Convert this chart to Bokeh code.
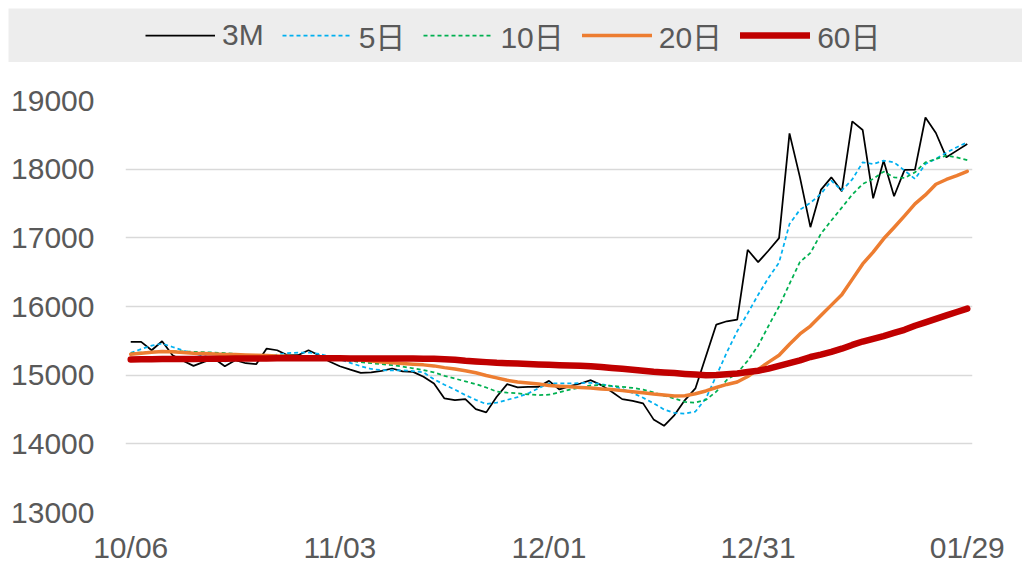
from bokeh.plotting import figure
from bokeh.models import Range1d, FixedTicker, Legend, LegendItem
from bokeh.layouts import column
from bokeh.embed import file_html
from bokeh.resources import INLINE

# ---- data ----
tick_positions = [0, 20, 40, 60, 80]
tick_labels = ["10/06", "11/03", "12/01", "12/31", "01/29"]

price_3m = [15484, 15484, 15363, 15494, 15291, 15210, 15135, 15193, 15240, 15131,
            15218, 15174, 15160, 15388, 15363, 15291, 15291, 15363, 15291, 15200,
            15130, 15080, 15034, 15039, 15063, 15097, 15054, 15048, 14976, 14879,
            14661, 14637, 14651, 14506, 14458, 14685, 14869, 14821, 14830, 14830,
            14917, 14792, 14840, 14879, 14927, 14855, 14758, 14651, 14627, 14589,
            14356, 14263, 14419, 14637, 14807, 15271, 15737, 15785, 15809, 16826,
            16646, 16816, 16995, 18521, 17880, 17155, 17698, 17881, 17678, 18695,
            18570, 17576, 18124, 17605, 17989, 17993, 18753, 18527, 18172, 18270,
            18367]

ma5 = [15324, 15380, 15430, 15460, 15410, 15360, 15320, 15280, 15240, 15200,
       15220, 15230, 15240, 15270, 15300, 15320, 15330, 15330, 15310, 15270,
       15230, 15180, 15130, 15090, 15073, 15070, 15070, 15060, 15040, 14940,
       14860, 14790, 14710, 14640, 14580, 14600, 14640, 14680, 14734, 14810,
       14879, 14880, 14880, 14885, 14888, 14870, 14840, 14800, 14740, 14670,
       14590, 14500, 14450, 14440, 14470, 14660, 14990, 15330, 15640, 15900,
       16170, 16420, 16640, 17200, 17410, 17510, 17639, 17833, 17690, 17850,
       18100, 18075, 18124, 18100, 17980, 17858, 18075, 18150, 18240, 18320,
       18391]

ma10 = [15320, 15330, 15340, 15350, 15350, 15345, 15340, 15335, 15330, 15320,
        15310, 15290, 15270, 15260, 15260, 15265, 15270, 15270, 15260, 15245,
        15230, 15210, 15190, 15175, 15160, 15145, 15125, 15100, 15075, 15040,
        14990, 14950, 14910, 14870, 14820, 14760, 14745, 14735, 14720, 14709,
        14715, 14750, 14790, 14820, 14850, 14855, 14845, 14830, 14815, 14790,
        14750, 14700, 14660, 14610, 14600, 14640, 14760, 14930, 15030, 15210,
        15430, 15720, 16000, 16330, 16650, 16780, 17058, 17252, 17440, 17630,
        17785, 17858, 17964, 17881, 17872, 17954, 18100, 18148, 18197, 18172,
        18133]

ma20 = [15305, 15320, 15335, 15345, 15340, 15330, 15320, 15315, 15310, 15300,
        15300, 15295, 15290, 15285, 15280, 15275, 15270, 15268, 15265, 15262,
        15255, 15240, 15225, 15205, 15190, 15180, 15170, 15160, 15150, 15135,
        15110, 15090, 15065, 15035, 14995, 14960, 14925, 14900, 14885, 14870,
        14850, 14840, 14830, 14822, 14812, 14800, 14790, 14775, 14760, 14745,
        14725, 14710, 14698, 14700, 14730, 14770, 14820, 14865, 14900, 14980,
        15085, 15190, 15290, 15450, 15600, 15715, 15870, 16020, 16170, 16395,
        16620, 16792, 16986, 17150, 17320, 17495, 17625, 17780, 17850, 17906,
        17969]

ma60 = [15228, 15230, 15232, 15235, 15235, 15236, 15237, 15238, 15240, 15240,
        15241, 15242, 15243, 15244, 15245, 15246, 15247, 15247, 15247, 15246,
        15245, 15244, 15243, 15242, 15242, 15242, 15242, 15241, 15240, 15238,
        15232, 15225, 15210, 15200, 15190, 15180, 15175, 15170, 15162, 15155,
        15150, 15146, 15142, 15137, 15130, 15120, 15105, 15092, 15080, 15065,
        15050, 15040, 15030, 15018, 15008, 15000, 15002, 15012, 15025, 15045,
        15065, 15095, 15135, 15175, 15215, 15265, 15300, 15340, 15385, 15440,
        15490, 15530, 15570, 15615, 15660, 15720, 15770, 15820, 15870, 15920,
        15969]

series_names = ["3M", "5日", "10日", "20日", "60日"]
series_values = [price_3m, ma5, ma10, ma20, ma60]

# ---- styles ----
FONT = "'Liberation Sans', Arial, 'Noto Sans CJK SC'"
TXT = "#595959"
BAND = "#EDEDED"
styles = [
    dict(line_color="#000000", line_width=1.75),
    dict(line_color="#00B0F0", line_width=1.75, line_dash="4 3"),
    dict(line_color="#00B050", line_width=1.75, line_dash="4 3"),
    dict(line_color="#ED7D31", line_width=3.5, line_cap="round", line_join="round"),
    dict(line_color="#C00000", line_width=6.5, line_cap="round", line_join="round"),
]

W = 1014
BL, BR = 116, 50

x = list(range(len(price_3m)))

# ---- main chart ----
p = figure(width=W, height=505, output_backend="svg", toolbar_location=None,
           x_range=Range1d(-0.5, 80.5), y_range=Range1d(13000, 19000),
           min_border_left=BL, min_border_right=BR, min_border_top=38,
           min_border_bottom=55)
p.outline_line_color = None
p.background_fill_color = "white"
p.border_fill_color = "white"

for vals, st in zip(series_values, styles):
    p.line(x=x, y=vals, **st)

p.xgrid.visible = False
p.ygrid.grid_line_color = "#D9D9D9"
p.ygrid.grid_line_width = 1.5
p.yaxis.ticker = FixedTicker(ticks=[13000, 14000, 15000, 16000, 17000, 18000, 19000])
p.xaxis.ticker = FixedTicker(ticks=tick_positions)
p.xaxis.major_label_overrides = {pos: lab for pos, lab in zip(tick_positions, tick_labels)}

for ax in (p.xaxis[0], p.yaxis[0]):
    ax.axis_line_color = None
    ax.major_tick_line_color = None
    ax.minor_tick_line_color = None
    ax.major_tick_out = 0
    ax.major_tick_in = 0
    ax.major_label_text_font = FONT
    ax.major_label_text_font_size = "30px"
    ax.major_label_text_color = TXT
p.yaxis.major_label_standoff = 31
p.xaxis.major_label_standoff = 18

# ---- legend band ----
lg = figure(width=W, height=54, output_backend="svg", toolbar_location=None,
            x_range=Range1d(0, 1), y_range=Range1d(0, 1),
            x_axis_location=None, y_axis_location=None,
            min_border=0, min_border_left=0, min_border_right=0,
            min_border_top=0, min_border_bottom=0)
lg.frame_align = False
lg.grid.visible = False
lg.outline_line_color = None
lg.background_fill_color = BAND
lg.border_fill_color = BAND

items = []
for name, st in zip(series_names, styles):
    # samples placed outside the visible range: only the legend sample shows
    r = lg.line(x=[5, 6], y=[5, 5], **st)
    items.append(LegendItem(label=name, renderers=[r]))

legend = Legend(items=items, orientation="horizontal", location="center_left",
                glyph_width=70, glyph_height=30, label_standoff=7, spacing=18,
                padding=0, margin=137,
                background_fill_alpha=0, border_line_alpha=0,
                label_text_font=FONT, label_text_font_size="30px",
                label_text_color=TXT)
lg.add_layout(legend, "center")

layout = column(lg, p, spacing=0, margin=(8, 0, 0, 8))

open("out.html", "w").write(file_html(layout, INLINE))
